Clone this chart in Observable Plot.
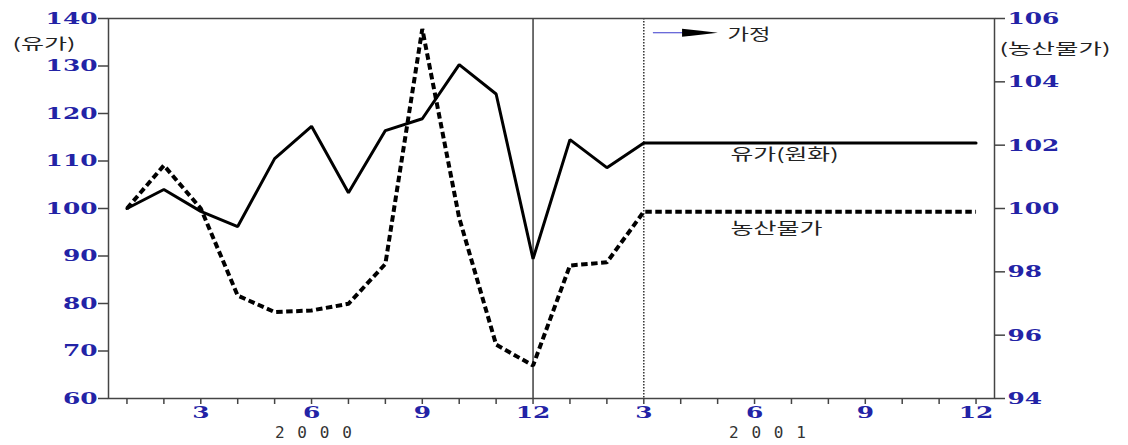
<!DOCTYPE html>
<html>
<head>
<meta charset="utf-8">
<script src="https://cdn.jsdelivr.net/npm/d3@7"></script>
<script src="https://cdn.jsdelivr.net/npm/@observablehq/plot@0.6"></script>
<style>
  html, body { margin: 0; padding: 0; background: #fff; }
  #chart svg { display: block; }
</style>
</head>
<body>
<div id="chart"></div>
<script>
// ---- data ----
const months = [1,2,3,4,5,6,7,8,9,10,11,12,13,14,15,16,17,18,19,20,21,22,23,24];
const oilPrice = [100.0,104.0,99.4,96.2,110.5,117.3,103.3,116.4,118.9,130.3,124.1,89.4,114.5,108.6,113.8,113.8,113.8,113.8,113.8,113.8,113.8,113.8,113.8,113.8];
const agriPrice = [100.0,101.36,100.0,97.25,96.73,96.78,96.99,98.25,105.67,99.7,95.7,95.04,98.2,98.3,99.9,99.9,99.9,99.9,99.9,99.9,99.9,99.9,99.9,99.9];
const leftTicks = [60,70,80,90,100,110,120,130,140];
const rightTicks = [94,96,98,100,102,104,106];
const xTickLabels = ["","","3","","","6","","","9","","","12","","","3","","","6","","","9","","","12"];
const years = ["2000","2001"];
const yearMonth = [6.05, 18.35];
const splitMonth = 12;      // solid vertical rule
const assumeMonth = 15;     // dotted vertical rule (assumption start)
const legendLabel = "가정";
const oilLabel = "유가(원화)";
const agriLabel = "농산물가";
const leftTitle = "(유가)";
const rightTitle = "(농산물가)";

// right axis (94..106) mapped onto left scale (60..140)
const toLeft = r => 60 + (r - 94) * 80 / 12;

const table = months.map((m, i) => ({m, oil: oilPrice[i], agri: toLeft(agriPrice[i])}));

const blue = "#2323a6";
const numFont = "'DejaVu Serif', serif";
const krFont = "'Noto Sans CJK KR', sans-serif";

const arrowMark = (index, {x, y}) => {
  const g = d3.create("svg:g");
  const yy = y(136.9);
  const xa = x(15.26), xb = x(16.05), xc = x(17.02);
  g.append("line").attr("x1", xa).attr("x2", xb + 6).attr("y1", yy).attr("y2", yy)
    .attr("stroke", "#3a3acc").attr("stroke-width", 1.2);
  g.append("path")
    .attr("d", `M${xb},${yy - 4} L${xb + 14},${yy - 2.5} L${xc},${yy} L${xb + 14},${yy + 2.5} L${xb},${yy + 4} Z`)
    .attr("fill", "#000");
  return g.node();
};

const chart = Plot.plot({
  width: 1128,
  height: 445,
  marginLeft: 108,
  marginRight: 134,
  marginTop: 18,
  marginBottom: 47,
  x: {domain: [0.5, 24.5]},
  y: {domain: [60, 140]},
  style: {background: "#fff", overflow: "visible"},
  marks: [
    Plot.ruleX([splitMonth], {stroke: "#222", strokeWidth: 1.3}),
    Plot.ruleX([assumeMonth], {stroke: "#333", strokeWidth: 1.5, strokeDasharray: "1.5,1.5"}),
    Plot.line(table, {x: "m", y: "agri", stroke: "#000", strokeWidth: 4, strokeDasharray: "6.5,3.5", strokeLinecap: "butt", strokeLinejoin: "miter"}),
    Plot.line(table, {x: "m", y: "oil", stroke: "#000", strokeWidth: 3, strokeLinejoin: "miter"}),
    Plot.frame({stroke: "#444", strokeWidth: 1.5}),
    Plot.axisY({anchor: "left", ticks: leftTicks, tickSize: 10, tickPadding: 1, label: null,
      fill: blue, stroke: "#444", strokeWidth: 1.5, fontSize: 17, fontWeight: "bold", fontFamily: numFont, className: "ytick"}),
    Plot.axisY({anchor: "right", ticks: rightTicks.map(toLeft), tickFormat: (d, i) => String(rightTicks[i]),
      tickSize: 10, tickPadding: 3, label: null,
      fill: blue, stroke: "#444", strokeWidth: 1.5, fontSize: 17, fontWeight: "bold", fontFamily: numFont, className: "ytick"}),
    Plot.axisX({anchor: "bottom", ticks: months, tickFormat: d => xTickLabels[months.indexOf(d)],
      tickSize: 6, tickPadding: 2, label: null,
      fill: blue, stroke: "#444", strokeWidth: 1.5, fontSize: 16, fontWeight: "bold", fontFamily: numFont, className: "xtick"}),
    Plot.text(years, {x: (d, i) => yearMonth[i], y: 60, dy: 34, text: d => d, fontSize: 16,
      fill: "#333", fontFamily: "'DejaVu Sans Mono', monospace", className: "year-lbl"}),
    Plot.text([oilLabel], {x: 17.35, y: 111.2, textAnchor: "start", fontSize: 16, fill: "#222", fontFamily: krFont, className: "lbl-oil"}),
    Plot.text([agriLabel], {x: 17.35, y: 95.8, textAnchor: "start", fontSize: 16, fill: "#222", fontFamily: krFont, className: "lbl-agri"}),
    Plot.text([legendLabel], {x: 17.27, y: 136.6, textAnchor: "start", fontSize: 16, fill: "#222", fontFamily: krFont, className: "lbl-leg"}),
    Plot.text([leftTitle], {frameAnchor: "top-left", dx: -96, dy: 20, textAnchor: "start", fontSize: 15, fill: "#222", fontFamily: krFont, className: "lbl-lt"}),
    Plot.text([rightTitle], {frameAnchor: "top-right", dx: 5, dy: 25, textAnchor: "start", fontSize: 15, fill: "#222", fontFamily: krFont, className: "lbl-rt"}),
    arrowMark
  ]
});

// widen glyphs to match the reference's wide lettering
const sel = d3.select(chart);
sel.selectAll(".ytick text, .xtick text").each(function() {
  const n = (this.textContent || "").length;
  if (n) d3.select(this).attr("textLength", n * 17.3).attr("lengthAdjust", "spacingAndGlyphs");
});
const widths = {"lbl-oil": 108, "lbl-agri": 92, "lbl-leg": 43, "lbl-lt": 63, "lbl-rt": 111};
for (const [cls, w] of Object.entries(widths)) {
  sel.selectAll(`.${cls} text`).attr("textLength", w).attr("lengthAdjust", "spacingAndGlyphs");
}
sel.selectAll(".year-lbl text").attr("textLength", 77).attr("lengthAdjust", "spacing");
document.getElementById("chart").appendChild(chart);
</script>
</body>
</html>
